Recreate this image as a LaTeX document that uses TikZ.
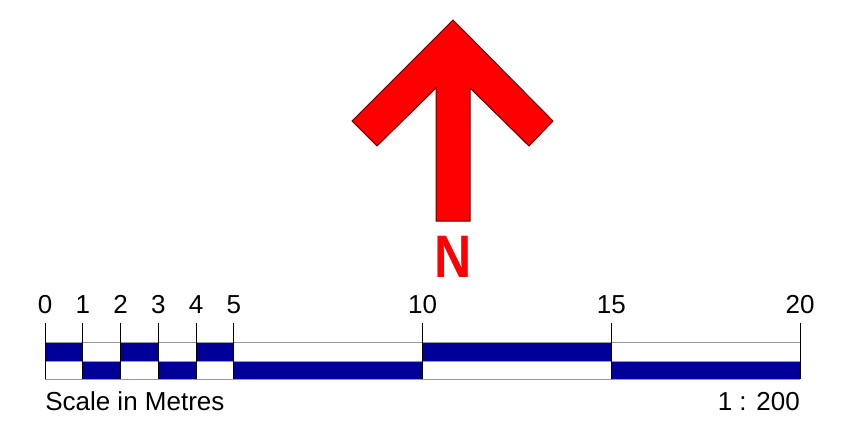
\documentclass[tikz,border=0pt]{standalone}
\usepackage{fontspec}
\setmainfont{Liberation Sans}
\definecolor{navy}{RGB}{0,0,153}
\definecolor{northred}{RGB}{255,0,0}

\begin{document}
\begin{tikzpicture}[x=0.75pt, y=-0.75pt,
      every node/.style = {font=\fontsize{19.5}{23}\selectfont, inner sep=0pt},
      tick/.style = {draw=black, line width=0.75pt},
      rail/.style = {draw=black!40, line width=0.75pt},
      cell/.style = {fill=navy}]
  \useasboundingbox (0,0) rectangle (860,437);
  % north arrow
  \draw[fill=northred, draw=black!60!red, line width=0.75pt]
    (453,20) -- (553,121) -- (529,146) -- (470,88) -- (470,221)
    -- (436,221) -- (436,88) -- (377,146) -- (352,121) -- cycle;
  \node[anchor=base, text=northred, xscale=0.86,
    font=\bfseries\fontsize{45}{50}\selectfont] (north) at (453,277) {N};
  % scale bar, one unit per metre
  \begin{scope}[shift={(45,0)}, x=28.3125pt]
    \foreach \a/\b in {0/1,2/3,4/5,10/15}
      \fill[cell] (\a,342) rectangle (\b,361);
    \foreach \a/\b in {1/2,3/4,5/10,15/20}
      \fill[cell] (\a,361) rectangle (\b,379);
    \foreach \y in {342,361,379}
      \draw[rail] (0,\y) -- (20,\y);
    \foreach \m in {0,1,2,3,4,5,10,15,20} {
      \node[anchor=base] (m\m) at (\m,313) {\m};
      \coordinate (top\m) at (\m,323);
      \coordinate (bot\m) at (\m,379);
      \draw[tick] (top\m) -- (bot\m);
    }
    \node[anchor=base west] (caption) at (0,410) {Scale in Metres};
    \node[anchor=base east] (ratio) at (20,410) {1 : 200};
  \end{scope}
\end{tikzpicture}
\end{document}
